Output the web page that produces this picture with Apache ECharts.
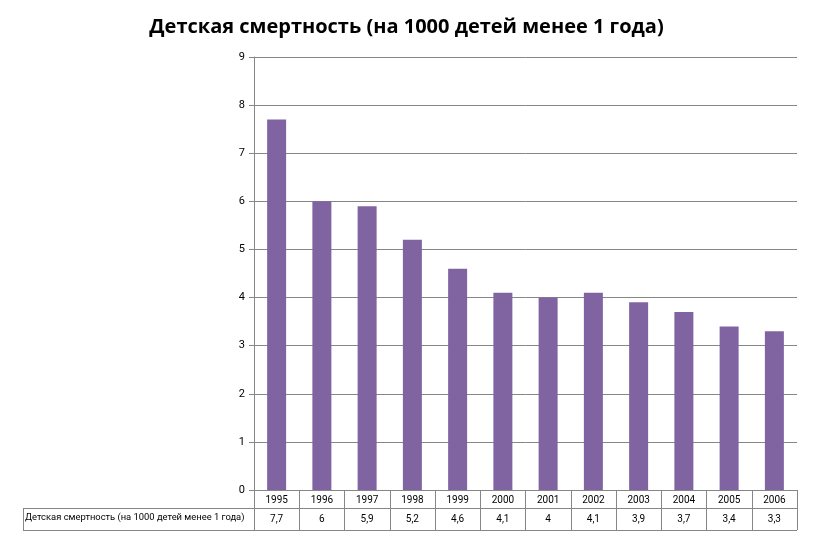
<!DOCTYPE html>
<html lang="ru">
<head>
<meta charset="UTF-8">
<script src="https://cdn.jsdelivr.net/npm/echarts@6/dist/echarts.min.js"></script>
<title>Детская смертность</title>
<style>
  html, body { margin: 0; padding: 0; background: #fff; }
  #chart { width: 813px; height: 542px; }
</style>
</head>
<body>
<div id="chart"></div>
<script type="text/javascript">
var title = 'Детская смертность (на 1000 детей менее 1 года)';
var seriesName = 'Детская смертность (на 1000 детей менее 1 года)';
var years = ['1995', '1996', '1997', '1998', '1999', '2000', '2001', '2002', '2003', '2004', '2005', '2006'];
var values = [7.7, 6, 5.9, 5.2, 4.6, 4.1, 4, 4.1, 3.9, 3.7, 3.4, 3.3];
var yTicks = [0, 1, 2, 3, 4, 5, 6, 7, 8, 9];

var lineColor = '#868686';
var font = 'Roboto';

var myChart = echarts.init(document.getElementById('chart'));

var option = {
    animation: false,
    title: {
        text: title,
        left: 'center',
        top: 12,
        textStyle: { fontFamily: 'Open Sans', fontWeight: 'bold', fontSize: 20, color: '#000' }
    },
    grid: { left: 254, right: 16, top: 57, bottom: 52 },
    xAxis: [
        {
            type: 'category',
            data: years,
            axisLine: { lineStyle: { color: lineColor } },
            axisTick: { show: true, length: 40, inside: false, lineStyle: { color: lineColor } },
            axisLabel: { margin: 5, fontFamily: font, fontSize: 10, color: '#000' }
        },
        {
            type: 'category',
            data: years,
            position: 'bottom',
            offset: 18,
            axisLine: { show: false },
            axisTick: { show: false },
            axisLabel: {
                margin: 6, fontFamily: font, fontSize: 10, color: '#000',
                formatter: function (v, i) { return String(values[i]).replace('.', ','); }
            }
        }
    ],
    yAxis: {
        type: 'value',
        min: yTicks[0],
        max: yTicks[yTicks.length - 1],
        interval: 1,
        axisLine: { show: true, lineStyle: { color: lineColor } },
        axisTick: { show: true, length: 5, lineStyle: { color: lineColor } },
        axisLabel: { margin: 9, fontFamily: font, fontSize: 11, color: '#000' },
        splitLine: { lineStyle: { color: lineColor, width: 1 } }
    },
    series: [{
        name: seriesName,
        type: 'bar',
        data: values,
        barWidth: 19,
        itemStyle: { color: '#8064A2' }
    }],
    graphic: [
        { type: 'line', shape: { x1: 23, y1: 508.5, x2: 797, y2: 508.5 }, style: { stroke: lineColor, lineWidth: 1 } },
        { type: 'line', shape: { x1: 23, y1: 530.5, x2: 797, y2: 530.5 }, style: { stroke: lineColor, lineWidth: 1 } },
        { type: 'line', shape: { x1: 23.5, y1: 508, x2: 23.5, y2: 531 }, style: { stroke: lineColor, lineWidth: 1 } },
        {
            type: 'text', left: 25, top: 513,
            style: { text: seriesName, fontFamily: font, fontSize: 9.4, fill: '#000' }
        }
    ]
};

myChart.setOption(option);
</script>
</body>
</html>
